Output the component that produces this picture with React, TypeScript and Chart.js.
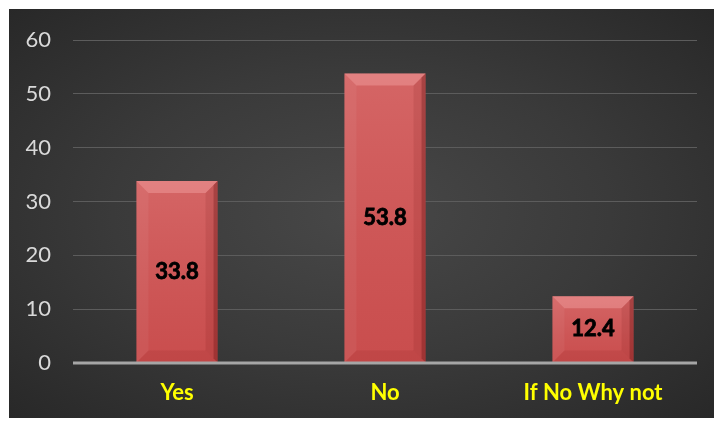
import React, { useEffect, useRef } from "react";
import { Chart, registerables } from "chart.js";

Chart.register(...registerables);

const categories = ["Yes", "No", "If No Why not"];
const values = [33.8, 53.8, 12.4];
const yTicks = [0, 10, 20, 30, 40, 50, 60];

const bevelPlugin = {
  id: "bevel",
  afterDatasetsDraw(chart: any) {
    const ctx = chart.ctx;
    const meta = chart.getDatasetMeta(0);
    const yScale = chart.scales.y;
    const area = chart.chartArea;
    meta.data.forEach((bar: any, i: number) => {
      const { x, y, base, width } = bar.getProps(["x", "y", "base", "width"], true);
      const L = x - width / 2;
      const R = x + width / 2;
      const T = y;
      const B = base;
      const b = 12;
      ctx.save();
      const g = ctx.createLinearGradient(0, T, 0, B);
      g.addColorStop(0, "rgba(255,255,255,0.10)");
      g.addColorStop(1, "rgba(120,0,0,0.08)");
      ctx.fillStyle = g;
      ctx.fillRect(L, T, R - L, B - T);
      const poly = (pts: number[][], color: string) => {
        ctx.beginPath();
        ctx.moveTo(pts[0][0], pts[0][1]);
        for (let k = 1; k < pts.length; k++) ctx.lineTo(pts[k][0], pts[k][1]);
        ctx.closePath();
        ctx.fillStyle = color;
        ctx.fill();
      };
      poly([[L, T], [R, T], [R - b, T + b], [L + b, T + b]], "rgba(255,190,190,0.32)");
      poly([[L, T], [L + b, T + b], [L + b, B - b], [L, B]], "rgba(255,255,255,0.05)");
      poly([[R, T], [R, B], [R - b, B - b], [R - b, T + b]], "rgba(90,0,0,0.10)");
      poly([[R, T], [R, B], [R - 4, B - 4], [R - 4, T + 4]], "rgba(70,0,0,0.25)");
      poly([[L, B], [R, B], [R - b, B - b], [L + b, B - b]], "rgba(90,0,0,0.08)");
      ctx.fillStyle = "#000000";
      ctx.strokeStyle = "#000000";
      ctx.lineWidth = 0.8;
      ctx.font = "bold 22px Lato";
      ctx.textAlign = "center";
      ctx.textBaseline = "middle";
      const cy = (T + B) / 2;
      ctx.fillText(String(values[i]), x, cy);
      ctx.strokeText(String(values[i]), x, cy);
      ctx.restore();
    });
    const y0 = yScale.getPixelForValue(0);
    ctx.save();
    ctx.strokeStyle = "#a6a6a6";
    ctx.lineWidth = 3;
    ctx.beginPath();
    ctx.moveTo(area.left, y0);
    ctx.lineTo(area.right, y0);
    ctx.stroke();
    ctx.restore();
  },
};

export default function App() {
  const ref = useRef<HTMLCanvasElement>(null);
  useEffect(() => {
    if (!ref.current) return;
    const chart = new Chart(ref.current, {
      type: "bar",
      data: {
        labels: categories,
        datasets: [
          {
            data: values,
            backgroundColor: "#d05454",
            borderWidth: 0,
            barPercentage: 0.39,
            categoryPercentage: 1,
          },
        ],
      },
      options: {
        animation: false,
        responsive: false,
        maintainAspectRatio: false,
        layout: { padding: { top: 31, right: 17, bottom: 0, left: 0 } },
        plugins: { legend: { display: false }, tooltip: { enabled: false } },
        scales: {
          x: {
            grid: { display: false },
            border: { display: false },
            ticks: {
              color: "#ffff00",
              font: { family: "Lato", size: 22, weight: "bold" },
              padding: 9,
              maxRotation: 0,
            },
            afterFit(scale: any) {
              scale.height = 55;
              scale.paddingLeft = 0;
              scale.paddingRight = 0;
            },
          },
          y: {
            min: 0,
            max: 60,
            afterBuildTicks(scale: any) {
              scale.ticks = yTicks.map((v) => ({ value: v }));
            },
            grid: {
              drawTicks: false,
              color: (c: any) => (c.tick && c.tick.value === 0 ? "rgba(0,0,0,0)" : "#5c5c5c"),
              lineWidth: 1,
            },
            border: { display: false },
            ticks: {
              color: "#d9d9d9",
              font: { family: "Lato", size: 22 },
              padding: 22,
            },
            afterFit(scale: any) {
              scale.width = 64;
              scale.paddingTop = 0;
              scale.paddingBottom = 0;
            },
          },
        },
      },
      plugins: [bevelPlugin],
    });
    return () => chart.destroy();
  }, []);
  return (
    <div
      style={{
        position: "absolute",
        left: 9,
        top: 9,
        width: 705,
        height: 409,
        background: "radial-gradient(ellipse at 50% 50%, #484848 0%, #3a3a3a 50%, #282828 100%)",
      }}
    >
      <canvas ref={ref} width={705} height={409} style={{ display: "block" }} />
    </div>
  );
}
